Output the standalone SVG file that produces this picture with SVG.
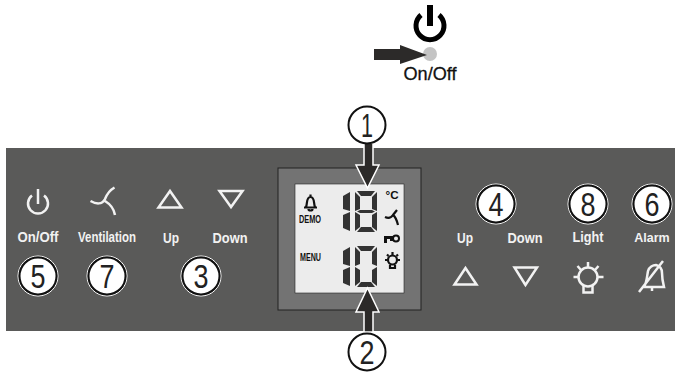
<svg xmlns="http://www.w3.org/2000/svg" width="675" height="374" viewBox="0 0 675 374">
<style>
text{font-family:"Liberation Sans",Arial,sans-serif}
.lb{fill:#f2f2f2;font-size:14.500px;font-weight:bold;text-anchor:middle}
.ic{fill:none;stroke:#f2f2f2;stroke-width:2.500}
.ci{fill:#fff;stroke:#111;stroke-width:2}
.n{fill:#222;font-size:34px;text-anchor:middle}
.halo{fill:none;stroke:#fff;stroke-width:1}
.seg{fill:#333}
.lcd{fill:#111;font-size:10px;font-weight:bold}
.lic{fill:none;stroke:#111;stroke-width:2.200}
</style>
<defs>
<g id="one">
<path class="seg" d="M7 1L0 5V18L7 20Z"/>
<path class="seg" d="M7 21L0 24V37L7 40Z"/>
</g>
<g id="zero">
<path class="seg" d="M2 0H20L16 5H6Z"/>
<path class="seg" d="M0 1L5 6V18L0 20Z"/>
<path class="seg" d="M22 1L17 6V18L22 20Z"/>
<path class="seg" d="M0 21L5 24V36L0 40Z"/>
<path class="seg" d="M22 21L17 24V36L22 40Z"/>
<path class="seg" d="M6 36H16L20 41H2Z"/>
</g>
</defs>
<rect id="panel" x="6" y="148" width="669" height="183" fill="#5a5a59"/>
<g id="top-power">
<path d="M421 15A14 14 0 1 0 439 15" fill="none" stroke="#000" stroke-width="5"/>
<rect x="427" y="5" width="6" height="21" fill="#000"/>
<circle cx="430" cy="54" r="7" fill="#c4c4c4"/>
<text x="430" y="80" font-size="18" fill="#111" stroke="#111" stroke-width=".3" text-anchor="middle" textLength="53" lengthAdjust="spacingAndGlyphs">On/Off</text>
</g>
<g id="screen">
<rect x="278" y="168" width="143" height="142" fill="#737373" stroke="#222" stroke-width="1"/>
<rect x="295" y="184" width="109" height="109" fill="#ececec" stroke="#222" stroke-width=".6"/>
<use href="#one" x="343" y="191"/>
<use href="#zero" x="355" y="191"/>
<path class="seg" d="M360 210H372L375 211.500L372 213H360L357 211.500Z"/>
<use href="#one" x="343" y="246"/>
<use href="#zero" x="355" y="246"/>
<path class="lic" d="M304 207.500H317M306 207C307.500 204 306 197 310.500 197C315 197 313.500 204 315 207M310.500 194.500V197M308.500 209C308.500 211 312.500 211 312.500 209"/>
<text class="lcd" x="299" y="223" textLength="22" lengthAdjust="spacingAndGlyphs">DEMO</text>
<text class="lcd" x="300" y="261" textLength="21" lengthAdjust="spacingAndGlyphs">MENU</text>
<text x="385.500" y="199" font-size="11.500" font-weight="bold" fill="#111" textLength="13" lengthAdjust="spacingAndGlyphs">°C</text>
<path class="lic" d="M385 217C389 219 391 218 393 215L397 210M393 215C396 217 397 221 398 225"/>
<path fill="#111" d="M384 236H393V241H390V239H387V243H384Z"/>
<circle cx="396" cy="238.500" r="3" fill="none" stroke="#111" stroke-width="2"/>
<circle cx="392.500" cy="260" r="4.500" class="lic"/>
<path class="lic" d="M390 265V268H395V265M392.500 252V255M385 260H387M398 260H400M387 254.500L388.500 256M398 254.500L396.500 256"/>
</g>
<g id="panel-left">
<path class="ic" d="M32 195.500A10 10 0 1 0 44 195.500"/><path class="ic" d="M38 189V204"/>
<path class="ic" d="M90.500 201C96 204 102 205 105 199C107 194 110 190 114.500 187.500M105 201C110 204 114 209 115 215"/>
<path class="ic" d="M170 191L158.500 207.500H181.500Z"/>
<path class="ic" d="M231 207L219.500 191H242.500Z"/>
<text class="lb" x="38" y="242" textLength="41" lengthAdjust="spacingAndGlyphs">On/Off</text>
<text class="lb" x="107" y="242" textLength="58" lengthAdjust="spacingAndGlyphs">Ventilation</text>
<text class="lb" x="171" y="243" textLength="16" lengthAdjust="spacingAndGlyphs">Up</text>
<text class="lb" x="230" y="243" textLength="35" lengthAdjust="spacingAndGlyphs">Down</text>
</g>
<g id="panel-right">
<text class="lb" x="465" y="243" textLength="16" lengthAdjust="spacingAndGlyphs">Up</text>
<text class="lb" x="525" y="243" textLength="35" lengthAdjust="spacingAndGlyphs">Down</text>
<text class="lb" x="588" y="242" textLength="31" lengthAdjust="spacingAndGlyphs">Light</text>
<text class="lb" x="652" y="242" style="font-size:12.500px">Alarm</text>
<path class="ic" d="M465.500 268L454.500 284.500H476.500Z"/>
<path class="ic" d="M525.500 285L514.500 267.500H537Z"/>
<circle class="ic" cx="588" cy="277" r="9.500"/>
<path class="ic" d="M583.500 285V292.500H592.500V285M588 262V267.500M573.500 277H578.500M597.500 277H603.500M577.500 266L581 270M598.500 266L595 270"/>
<path class="ic" d="M644 287C647 282 647 276 648 271C649 267 653 265 656 265C660 266 662 269 662 273C662 279 663 283 664 287H644ZM639 292L663 261M652 287V291"/>
</g>
<g id="connectors">
<path d="M364 143H373V165H379L367.500 188L356 165H364Z" fill="#2c2a29" stroke="#fff" stroke-width="1.500"/>
<path d="M364 332H373V312H379L367.500 288L356 312H364Z" fill="#2c2a29" stroke="#fff" stroke-width="1.500"/>
<path d="M374 49H400V45L427 55L400 64V60H374Z" fill="#2c2a29"/>
</g>
<g id="c1"><circle class="ci" cx="367" cy="125" r="18.500"/><text class="n" x="367" y="137" textLength="12" lengthAdjust="spacingAndGlyphs">1</text></g>
<g id="c2"><circle class="ci" cx="367" cy="352" r="18.500"/><text class="n" x="367" y="364" textLength="15" lengthAdjust="spacingAndGlyphs">2</text></g>
<g id="c5"><circle class="halo" cx="38" cy="276" r="20"/><circle class="ci" cx="38" cy="276" r="18.500"/><text class="n" x="38" y="288" textLength="15" lengthAdjust="spacingAndGlyphs">5</text></g>
<g id="c7"><circle class="halo" cx="107" cy="276" r="20"/><circle class="ci" cx="107" cy="276" r="18.500"/><text class="n" x="107" y="288" textLength="15" lengthAdjust="spacingAndGlyphs">7</text></g>
<g id="c3"><circle class="halo" cx="201" cy="276" r="20"/><circle class="ci" cx="201" cy="276" r="18.500"/><text class="n" x="201" y="288" textLength="15" lengthAdjust="spacingAndGlyphs">3</text></g>
<g id="c4"><circle class="halo" cx="496" cy="204" r="20"/><circle class="ci" cx="496" cy="204" r="18.500"/><text class="n" x="496" y="216" textLength="15" lengthAdjust="spacingAndGlyphs">4</text></g>
<g id="c8"><circle class="halo" cx="588" cy="204" r="20"/><circle class="ci" cx="588" cy="204" r="18.500"/><text class="n" x="588" y="216" textLength="15" lengthAdjust="spacingAndGlyphs">8</text></g>
<g id="c6"><circle class="halo" cx="652" cy="204" r="20"/><circle class="ci" cx="652" cy="204" r="18.500"/><text class="n" x="652" y="216" textLength="15" lengthAdjust="spacingAndGlyphs">6</text></g>
</svg>
